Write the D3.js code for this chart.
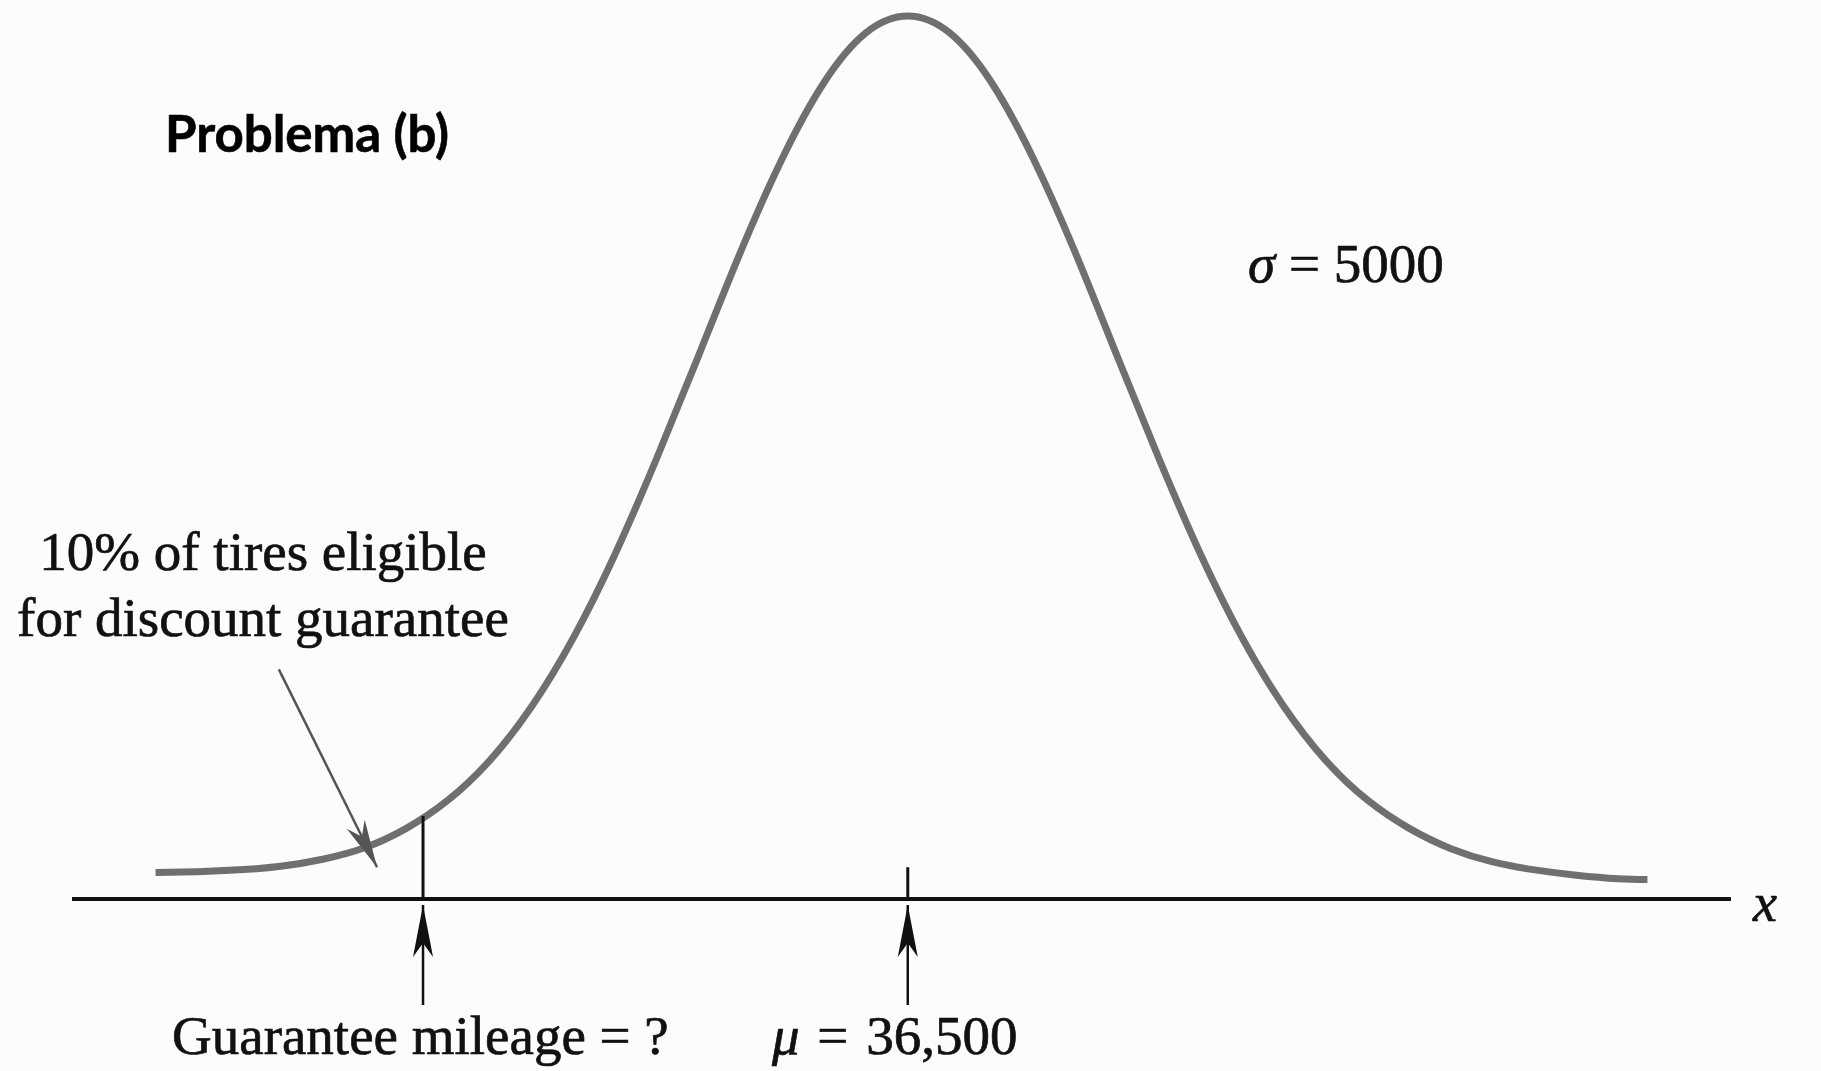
<!DOCTYPE html>
<html>
<head>
<meta charset="utf-8">
<script src="https://cdn.jsdelivr.net/npm/d3@7"></script>
<style>
  html, body { margin: 0; padding: 0; background: #fcfcfc; }
  svg { display: block; }
</style>
</head>
<body>
<svg id="chart"></svg>
<script>
// curve: mileage and height (peak = 1)
var miles = [18500, 19500, 20500, 21500, 22500, 23500, 24500, 25500, 26500, 27500,
  28500, 29500, 30500, 31500, 32500, 33500, 34500, 35500, 36500, 37500,
  38500, 39500, 40500, 41500, 42500, 43500, 44500, 45500, 46500, 47500,
  48500, 49500, 50500, 51500, 52500, 53500, 54200];
var heights = [0.030, 0.031, 0.033, 0.037, 0.045, 0.058, 0.080, 0.112, 0.157, 0.218,
  0.296, 0.391, 0.500, 0.616, 0.733, 0.839, 0.925, 0.981, 1.000, 0.981,
  0.925, 0.839, 0.733, 0.616, 0.500, 0.391, 0.296, 0.218, 0.157, 0.112,
  0.080, 0.057, 0.042, 0.033, 0.027, 0.023, 0.022];

var mu = 36500;
var sigma = 5000;
var guaranteeMiles = 24900;   // the "?" line
var guaranteeHeight = 0.094;
var muTickHeight = 0.036;

// pointer for the 10% note
var pointerFrom = [21450, 0.26];
var pointerTo = [23800, 0.036];

var width = 1821,
  height = 1071;

var svg = d3.select("#chart")
  .attr("width", width)
  .attr("height", height);

var x = d3.scaleLinear().domain([16500, 56200]).range([72, 1731]);
var y = d3.scaleLinear().domain([0, 1]).range([899, 16]);

var serif = "'Liberation Serif', 'Times New Roman', serif";

// arrow heads
var defs = svg.append("defs");
defs.append("marker")
  .attr("id", "dart")
  .attr("markerUnits", "userSpaceOnUse")
  .attr("viewBox", "-52 -12 54 24")
  .attr("refX", 0).attr("refY", 0)
  .attr("markerWidth", 54).attr("markerHeight", 24)
  .attr("orient", "auto")
  .append("path")
  .attr("d", "M0,0 L-52,-10 L-38,0 L-52,10 Z")
  .attr("fill", "#111");
defs.append("marker")
  .attr("id", "dartGray")
  .attr("markerUnits", "userSpaceOnUse")
  .attr("viewBox", "-48 -12 50 24")
  .attr("refX", 0).attr("refY", 0)
  .attr("markerWidth", 50).attr("markerHeight", 24)
  .attr("orient", "auto")
  .append("path")
  .attr("d", "M0,0 L-48,-10 L-34,0 L-48,10 Z")
  .attr("fill", "#555");

// axis line
svg.append("line")
  .attr("x1", x.range()[0]).attr("x2", x.range()[1])
  .attr("y1", y(0)).attr("y2", y(0))
  .attr("stroke", "#111")
  .attr("stroke-width", 4);

svg.append("text")
  .attr("x", x.range()[1] + 22)
  .attr("y", y(0) + 22)
  .attr("font-family", serif)
  .attr("font-style", "italic")
  .attr("font-size", 54)
  .attr("fill", "#111")
  .attr("stroke", "#111").attr("stroke-width", 0.7)
  .text("x");

// normal curve
var pts = miles.map(function(m, i) { return [m, heights[i]]; });
var line = d3.line()
  .x(function(d) { return x(d[0]); })
  .y(function(d) { return y(d[1]); })
  .curve(d3.curveNatural);

svg.append("path")
  .datum(pts)
  .attr("d", line)
  .attr("fill", "none")
  .attr("stroke", "#6f6f6f")
  .attr("stroke-width", 7);

// guarantee line and mean tick
svg.append("line")
  .attr("x1", x(guaranteeMiles)).attr("x2", x(guaranteeMiles))
  .attr("y1", y(0)).attr("y2", y(guaranteeHeight))
  .attr("stroke", "#111").attr("stroke-width", 3);

svg.append("line")
  .attr("x1", x(mu)).attr("x2", x(mu))
  .attr("y1", y(0)).attr("y2", y(muTickHeight))
  .attr("stroke", "#111").attr("stroke-width", 3);

// arrows from below
[guaranteeMiles, mu].forEach(function(m) {
  svg.append("line")
    .attr("x1", x(m)).attr("x2", x(m))
    .attr("y1", y(0) + 106).attr("y2", y(0) + 6)
    .attr("stroke", "#111").attr("stroke-width", 2.5)
    .attr("marker-end", "url(#dart)");
});

// pointer arrow
svg.append("line")
  .attr("x1", x(pointerFrom[0])).attr("y1", y(pointerFrom[1]))
  .attr("x2", x(pointerTo[0])).attr("y2", y(pointerTo[1]))
  .attr("stroke", "#555").attr("stroke-width", 2.5)
  .attr("marker-end", "url(#dartGray)");

// labels
function label(sel) {
  return sel.attr("font-family", serif).attr("font-size", 55)
    .attr("fill", "#111").attr("stroke", "#111").attr("stroke-width", 0.7);
}

label(svg.append("text").attr("x", 172).attr("y", 1054))
  .text("Guarantee mileage = ?");

var muText = label(svg.append("text").attr("x", 772).attr("y", 1054));
muText.append("tspan").attr("font-style", "italic").text("\u03bc");
muText.append("tspan").attr("dx", 4).text(" = ");
muText.append("tspan").attr("dx", 4).text(d3.format(",")(mu));

var sigText = label(svg.append("text").attr("x", 1248).attr("y", 282));
sigText.append("tspan").attr("font-style", "italic").text("\u03c3");
sigText.append("tspan").text(" = " + sigma);

var note = label(svg.append("text")).attr("text-anchor", "middle");
note.append("tspan").attr("x", 263).attr("y", 570).text("10% of tires eligible");
note.append("tspan").attr("x", 263).attr("y", 636).text("for discount guarantee");

svg.append("text")
  .attr("x", 165).attr("y", 152)
  .attr("font-family", "Lato, 'Open Sans', sans-serif")
  .attr("font-weight", "bold")
  .attr("font-size", 51)
  .attr("fill", "#000")
  .attr("stroke", "#000").attr("stroke-width", 0.6)
  .text("Problema (b)");
</script>
</body>
</html>
